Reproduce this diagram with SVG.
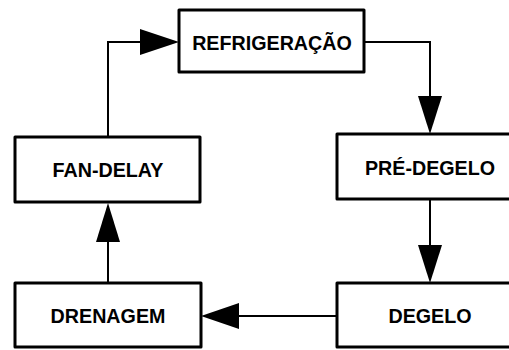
<svg xmlns="http://www.w3.org/2000/svg" width="509" height="350" viewBox="0 0 509 350">
<style>
.box{fill:#fff;stroke:#000;stroke-width:3;stroke-linejoin:round}
.lbl{font-family:"Liberation Sans",Arial,sans-serif;font-weight:bold;font-size:19.7px;text-anchor:middle;fill:#000}
.con{fill:none;stroke:#000;stroke-width:2}
.head{fill:#000}
</style>
<rect width="509" height="350" fill="#fff"/>
<g id="connectors">
<path class="con" d="M108,137 V42 H142"/>
<polygon class="head" points="140,29 179,42 140,55"/>
<path class="con" d="M364,42 H430 V98"/>
<polygon class="head" points="418,96 430,134 442,96"/>
<path class="con" d="M430,199 V247"/>
<polygon class="head" points="418,245 430,283 442,245"/>
<path class="con" d="M337,316 H237"/>
<polygon class="head" points="239,303 201,316 239,329"/>
<path class="con" d="M108,283 V240"/>
<polygon class="head" points="96,242 108,203 120,242"/>
</g>
<g id="refrigeracao">
<rect class="box" x="179" y="10" width="185" height="62"/>
<text class="lbl" x="272" y="50">REFRIGERAÇÃO</text>
</g>
<g id="pre-degelo">
<rect class="box" x="337" y="134" width="186" height="65"/>
<text class="lbl" x="430" y="175">PRÉ-DEGELO</text>
</g>
<g id="degelo">
<rect class="box" x="337" y="283" width="186" height="64"/>
<text class="lbl" x="430" y="323">DEGELO</text>
</g>
<g id="drenagem">
<rect class="box" x="15" y="283" width="186" height="64"/>
<text class="lbl" x="108" y="323">DRENAGEM</text>
</g>
<g id="fan-delay">
<rect class="box" x="15" y="137" width="185" height="65"/>
<text class="lbl" x="108" y="177">FAN-DELAY</text>
</g>
</svg>
